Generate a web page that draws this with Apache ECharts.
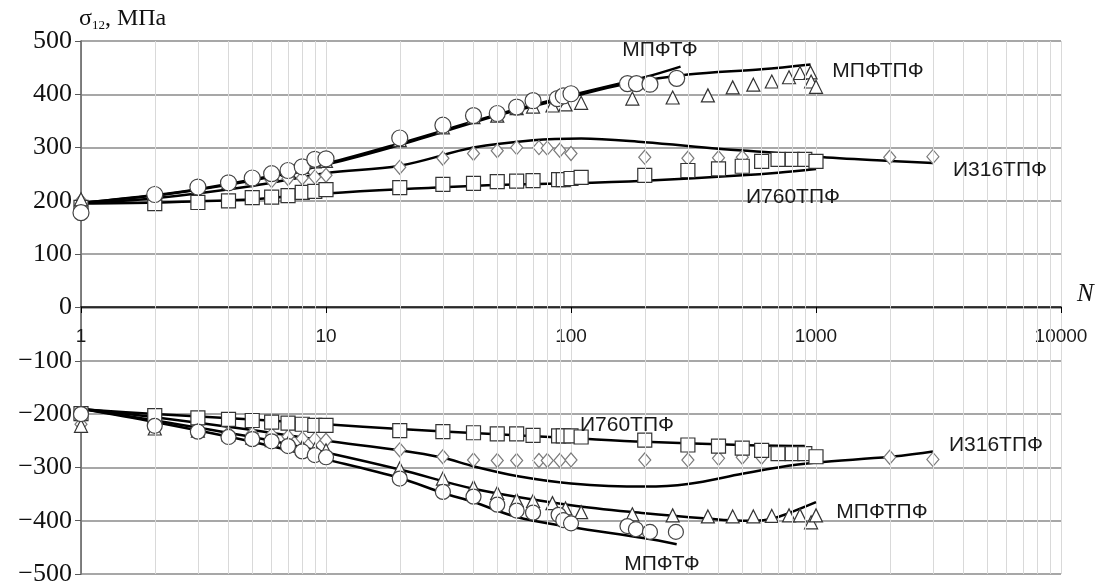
<!DOCTYPE html>
<html>
<head>
<meta charset="utf-8">
<script src="https://cdn.jsdelivr.net/npm/echarts@6/dist/echarts.min.js"></script>
<style>
  html, body { margin: 0; padding: 0; background: #fff; }
  #container { width: 1104px; height: 581px; }
</style>
</head>
<body>
<div id="container"></div>
<script>
// fitted curves, [N, sigma]
const lineMpftfUp = [[1,196],[2,211],[3,222],[5,240],[10,270],[20,308],[50,362],[100,398],[200,432],[280,452]];
const lineMpftpfUp = [[1,196],[2,210],[3,221],[5,238],[10,268],[20,305],[50,360],[100,395],[170,420],[300,437],[600,447],[950,456]];
const lineI316Up = [[1,196],[2,205],[5,228],[10,252],[20,266],[40,300],[70,314],[110,317],[200,310],[400,298],[700,290],[1000,283],[2000,275],[3000,271]];
const lineI760Up = [[1,195],[2,197],[5,203],[10,214],[20,222],[50,230],[100,233],[200,238],[500,248],[700,253],[1000,260]];

const lineMpftfLo = [[1,-190],[2,-215],[5,-252],[10,-285],[20,-320],[30,-348],[40,-365],[60,-393],[100,-412],[200,-433],[270,-444]];
const lineMpftpfLo = [[1,-190],[2,-212],[5,-243],[10,-272],[20,-304],[40,-340],[100,-371],[200,-386],[360,-396],[500,-400],[610,-399],[700,-393],[1000,-365]];
const lineI316Lo = [[1,-190],[2,-206],[5,-230],[10,-250],[20,-268],[30,-282],[40,-298],[60,-316],[100,-330],[200,-336],[300,-331],[500,-312],[700,-300],[1000,-291],[2000,-280],[3000,-270]];
const lineI760Lo = [[1,-191],[2,-200],[5,-210],[10,-219],[20,-228],[50,-238],[100,-245],[200,-252],[500,-258],[900,-260]];

// measured points, [N, sigma]
const circlesUp = [[1,178],[2,212],[3,226],[4,234],[5,243],[6,251],[7,257],[8,264],[9,278],[10,279],[20,318],[30,342],[40,360],[50,364],[60,376],[70,388],[88,392],[93,397],[100,401],[170,420],[185,420],[210,419],[270,430]];
const trianglesUp = [[1,203],[2,214],[3,226],[4,235],[5,244],[6,252],[7,258],[8,264],[9,274],[10,275],[20,314],[30,338],[40,357],[50,360],[60,374],[70,377],[84,379],[95,381],[110,384],[178,392],[260,394],[362,398],[457,413],[555,418],[660,424],[776,432],[860,440],[950,441],[955,424],[1000,414]];
const diamondsUp = [[1,200],[2,210],[3,227],[4,233],[5,238],[6,238],[7,242],[8,243],[9,245],[10,248],[20,263],[30,280],[40,289],[50,294],[60,300],[74,300],[80,299],[90,295],[100,289],[200,282],[300,280],[400,281],[500,282],[2000,282],[3000,283]];
const squaresUp = [[1,188],[2,195],[3,197],[4,200],[5,206],[6,207],[7,210],[8,216],[9,218],[10,221],[20,225],[30,231],[40,233],[50,236],[60,237],[70,238],[89,240],[93,240],[100,242],[110,244],[200,248],[300,257],[400,260],[500,265],[600,274],[700,278],[800,278],[900,278],[1000,274]];

const circlesLo = [[1,-200],[2,-222],[3,-233],[4,-243],[5,-247],[6,-251],[7,-260],[8,-270],[9,-277],[10,-281],[20,-321],[30,-346],[40,-355],[50,-370],[60,-381],[70,-385],[89,-389],[93,-399],[100,-405],[170,-410],[184,-416],[210,-421],[268,-421]];
const trianglesLo = [[1,-222],[2,-227],[3,-231],[4,-238],[5,-244],[6,-249],[7,-255],[8,-262],[9,-266],[10,-268],[20,-302],[30,-321],[40,-337],[50,-348],[60,-361],[70,-363],[84,-367],[95,-377],[110,-384],[178,-388],[260,-390],[362,-392],[457,-392],[555,-392],[660,-391],[776,-390],[860,-390],[955,-403],[1000,-390]];
const diamondsLo = [[1,-219],[2,-225],[3,-231],[4,-236],[5,-237],[6,-239],[7,-242],[8,-246],[9,-247],[10,-249],[20,-267],[30,-280],[40,-286],[50,-287],[60,-287],[74,-287],[80,-287],[90,-287],[100,-286],[200,-286],[300,-286],[400,-283],[500,-281],[600,-281],[2000,-281],[3000,-285]];
const squaresLo = [[1,-199],[2,-203],[3,-207],[4,-210],[5,-212],[6,-215],[7,-217],[8,-219],[9,-221],[10,-221],[20,-231],[30,-233],[40,-235],[50,-237],[60,-237],[70,-240],[89,-241],[93,-241],[100,-241],[110,-243],[200,-249],[300,-258],[400,-260],[500,-264],[600,-268],[700,-274],[800,-274],[900,-274],[1000,-280]];

// minor log grid lines
const minorGrid = [2,3,4,5,6,7,8,9,20,30,40,50,60,70,80,90,200,300,400,500,600,700,800,900,2000,3000,4000,5000,6000,7000,8000,9000];

const chart = echarts.init(document.getElementById('container'), null, { renderer: 'canvas' });

function curve(data) {
    return {
        type: 'line', data: data, smooth: 0.35, showSymbol: false, symbol: 'none',
        lineStyle: { color: '#000', width: 2.5 }, z: 3, silent: true
    };
}

function points(data, symbol, size, stroke) {
    return {
        type: 'scatter', data: data, symbol: symbol, symbolSize: size,
        itemStyle: { color: '#fff', borderColor: stroke, borderWidth: 1.2, opacity: 1 },
        z: 4, silent: true
    };
}

const labels = [
    ['МПФТФ', 660, 50], ['МПФТПФ', 878, 71], ['И316ТПФ', 1000, 170], ['И760ТПФ', 793, 197],
    ['И760ТПФ', 627, 425], ['И316ТПФ', 996, 445], ['МПФТПФ', 882, 512], ['МПФТФ', 662, 564]
];

const option = {
    animation: false,
    backgroundColor: '#fff',
    grid: { left: 81, right: 43, top: 41, bottom: 7, containLabel: false, outerBoundsMode: 'none' },
    xAxis: {
        type: 'log', logBase: 10, min: 1, max: 10000,
        position: 'bottom', offset: -267,
        name: 'N', nameLocation: 'end', nameGap: 16,
        nameTextStyle: { fontFamily: 'Liberation Serif', fontStyle: 'italic', fontSize: 25, color: '#111', verticalAlign: 'bottom', padding: [0, 0, 0, 0] },
        axisLine: { onZero: false, lineStyle: { color: '#000', width: 1.5 } },
        axisTick: { show: true, length: 6, lineStyle: { color: '#000', width: 1 } },
        axisLabel: { margin: 20, fontFamily: 'Liberation Sans', fontSize: 19, color: '#1a1a1a', formatter: v => String(v) },
        splitLine: { show: true, lineStyle: { color: '#d9d9d9', width: 1 } }
    },
    yAxis: {
        type: 'value', min: -500, max: 500, interval: 100,
        name: '{s|σ}{sub|12}{s|, МПа}', nameLocation: 'end', nameGap: 9,
        nameTextStyle: {
            align: 'left', verticalAlign: 'bottom', padding: [0, 0, 0, -2],
            rich: {
                s: { fontFamily: 'Liberation Serif', fontSize: 24, color: '#111', lineHeight: 26 },
                sub: { fontFamily: 'Liberation Serif', fontSize: 13, color: '#111', lineHeight: 15, verticalAlign: 'bottom' }
            }
        },
        axisLine: { show: true, onZero: false, lineStyle: { color: '#595959', width: 1.5 } },
        axisTick: { show: true, length: 6, lineStyle: { color: '#595959' } },
        axisLabel: {
            margin: 9, fontFamily: 'Liberation Serif', fontSize: 26, color: '#111',
            formatter: v => (v < 0 ? '\u2212' + Math.abs(v) : String(v))
        },
        splitLine: { show: true, lineStyle: { color: '#8a8a8a', width: 1.5 } }
    },
    graphic: labels.map(l => ({
        type: 'text', x: l[1], y: l[2], z: 10, silent: true,
        style: { text: l[0], font: '21px "Liberation Sans"', fill: '#1a1a1a', textAlign: 'center', textVerticalAlign: 'middle' }
    })),
    series: [
        {
            type: 'line', data: [], z: 1, silent: true,
            markLine: {
                silent: true, symbol: ['none', 'none'], label: { show: false },
                lineStyle: { type: 'solid', color: '#d9d9d9', width: 1 },
                data: minorGrid.map(v => ({ xAxis: v }))
            }
        },
        curve(lineMpftfUp), curve(lineMpftpfUp), curve(lineI316Up), curve(lineI760Up),
        curve(lineMpftfLo), curve(lineMpftpfLo), curve(lineI316Lo), curve(lineI760Lo),
        points(diamondsUp, 'diamond', [12, 14], '#7a7a7a'),
        points(squaresUp, 'rect', 14, '#333'),
        points(trianglesUp, 'triangle', 13, '#333'),
        points(circlesUp, 'circle', 16, '#444'),
        points(diamondsLo, 'diamond', [12, 14], '#7a7a7a'),
        points(squaresLo, 'rect', 14, '#333'),
        points(trianglesLo, 'triangle', 13, '#333'),
        points(circlesLo, 'circle', 15, '#444')
    ]
};

chart.setOption(option);
window.addEventListener('resize', () => chart.resize());
</script>
</body>
</html>
